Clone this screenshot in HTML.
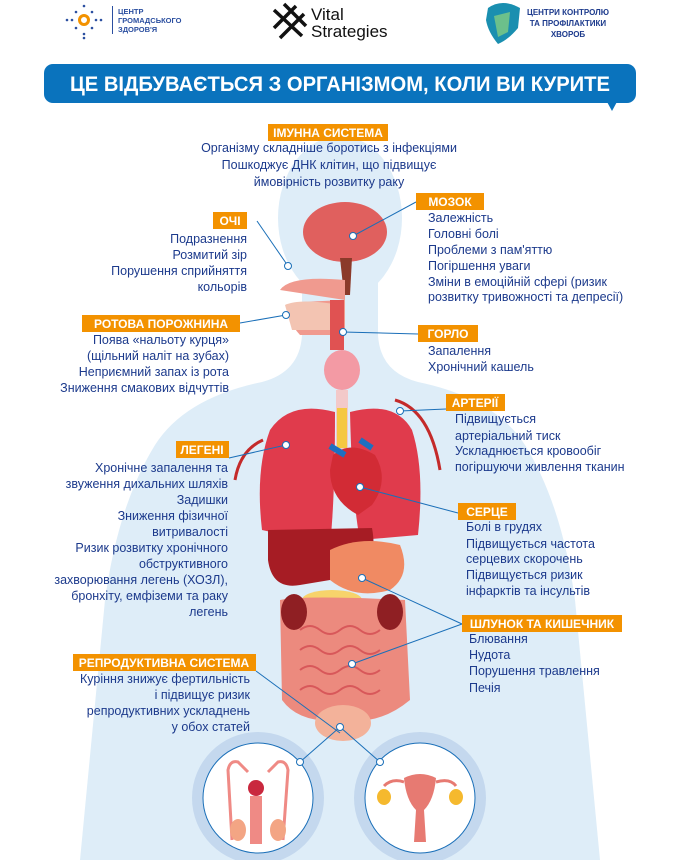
<!DOCTYPE html>
<html><head><meta charset="utf-8"><style>
body{margin:0;width:680px;height:860px;overflow:hidden;background:#fff;font-family:"Liberation Sans",sans-serif}
svg{display:block}
.t{font-family:"Liberation Sans",sans-serif;font-size:12.5px;fill:#1c3a8c}
.h{font-family:"Liberation Sans",sans-serif;font-size:12px;font-weight:bold;fill:#fff}
</style></head><body>
<svg width="680" height="860" viewBox="0 0 680 860" xmlns="http://www.w3.org/2000/svg">
<g fill="#deedf8">
<ellipse cx="340" cy="218" rx="62" ry="82"/>
<path d="M302 280 L302 335 Q300 372 262 382 Q185 398 155 445 Q118 505 105 600 L80 860 L600 860 L575 600 Q562 505 525 445 Q495 398 418 382 Q380 372 378 335 L378 280 Z"/>
</g>
<g>
<circle cx="84" cy="20" r="4.5" fill="none" stroke="#f39200" stroke-width="3"/>
<g fill="#2b4fa0"><circle cx="72" cy="20" r="1.3"/><circle cx="96" cy="20" r="1.3"/><circle cx="84" cy="6" r="1.3"/><circle cx="84" cy="34" r="1.3"/><circle cx="76" cy="12" r="1.3"/><circle cx="92" cy="12" r="1.3"/><circle cx="76" cy="28" r="1.3"/><circle cx="92" cy="28" r="1.3"/><circle cx="67" cy="20" r="1.3"/><circle cx="101" cy="20" r="1.3"/><circle cx="84" cy="38" r="1.3"/></g>
<rect x="112" y="6" width="1" height="28" fill="#2b4fa0"/>
<text x="118" y="14" style="font-size:7.5px;font-weight:bold" fill="#2b4fa0">ЦЕНТР</text>
<text x="118" y="23" style="font-size:7.5px;font-weight:bold" fill="#2b4fa0">ГРОМАДСЬКОГО</text>
<text x="118" y="32" style="font-size:7.5px;font-weight:bold" fill="#2b4fa0">ЗДОРОВ'Я</text>
<g stroke="#111" stroke-width="3.5" fill="none"><path d="M274 10 L302 36 M284 4 L306 26 M274 28 L296 6 M280 38 L304 14"/></g>
<text x="311" y="20" style="font-size:17px" fill="#111">Vital</text>
<text x="311" y="37" style="font-size:17px" fill="#111">Strategies</text>
<path d="M488 8 Q502 -2 520 8 L518 28 Q508 40 498 44 Q488 32 486 20 Z" fill="#1a8fb0"/>
<path d="M494 16 L510 12 L508 32 L498 37 Z" fill="#6cc08b"/>
<text x="568" y="15" text-anchor="middle" style="font-size:8px;font-weight:bold" fill="#1c3a8c">ЦЕНТРИ КОНТРОЛЮ</text>
<text x="568" y="26" text-anchor="middle" style="font-size:8px;font-weight:bold" fill="#1c3a8c">ТА ПРОФІЛАКТИКИ</text>
<text x="568" y="37" text-anchor="middle" style="font-size:8px;font-weight:bold" fill="#1c3a8c">ХВОРОБ</text>
</g>
<rect x="44" y="64" width="592" height="39" rx="9" fill="#0a73bd"/>
<path d="M606 100 L612 111 L618 100 Z" fill="#0a73bd"/>
<text x="340" y="91" text-anchor="middle" textLength="540" lengthAdjust="spacingAndGlyphs" style="font-family:'Liberation Sans',sans-serif;font-size:21px;font-weight:bold" fill="#fff">ЦЕ ВІДБУВАЄТЬСЯ З ОРГАНІЗМОМ, КОЛИ ВИ КУРИТЕ</text>

<circle cx="258" cy="798" r="66" fill="#c4d8ee"/><circle cx="258" cy="798" r="55" fill="#fff" stroke="#1a6fb8" stroke-width="1"/>
<circle cx="420" cy="798" r="66" fill="#c4d8ee"/><circle cx="420" cy="798" r="55" fill="#fff" stroke="#1a6fb8" stroke-width="1"/>
<g fill="none" stroke="#ef8a85" stroke-width="3"><path d="M232 840 L228 770 Q230 760 238 762 L248 772 M283 840 L288 770 Q286 760 278 762 L268 772"/></g>
<circle cx="256" cy="788" r="8" fill="#c9283e"/>
<rect x="250" y="796" width="12" height="48" fill="#ef8a85"/>
<ellipse cx="238" cy="830" rx="8" ry="11" fill="#f3a584"/><ellipse cx="278" cy="830" rx="8" ry="11" fill="#f3a584"/>
<path d="M404 778 Q420 770 436 778 Q434 800 424 810 L426 842 L414 842 L416 810 Q406 800 404 778 Z" fill="#e77a72"/>
<path d="M404 782 Q392 778 384 786 M436 782 Q450 778 456 786" stroke="#e77a72" stroke-width="3" fill="none"/>
<ellipse cx="384" cy="797" rx="7" ry="8" fill="#f5b92e"/><ellipse cx="456" cy="797" rx="7" ry="8" fill="#f5b92e"/>

<ellipse cx="345" cy="232" rx="42" ry="30" fill="#e0605e"/>
<path d="M340 258 L352 258 L350 295 L344 295 Z" fill="#8b3a2a"/>
<path d="M280 290 Q290 275 345 280 L345 300 L300 302 Q285 320 300 335 L345 335 L345 300 Z" fill="#f09a8f"/>
<path d="M285 305 Q300 298 340 305 L340 330 L292 330 Z" fill="#f3c4b2"/>
<rect x="330" y="300" width="14" height="50" fill="#e05252"/>
<ellipse cx="342" cy="370" rx="18" ry="20" fill="#f39aa4"/>
<rect x="336" y="390" width="12" height="60" fill="#f3c9c9"/>
<rect x="337" y="408" width="10" height="40" fill="#f5c842"/>
<path d="M335 412 Q290 400 270 430 Q255 470 262 530 L330 545 Q335 500 335 412 Z" fill="#e03b4c"/>
<path d="M350 412 Q395 400 412 430 Q425 470 418 535 L360 540 Q352 500 350 412 Z" fill="#e03b4c"/>
<path d="M333 455 Q350 440 375 455 Q390 480 372 505 L358 515 Q330 500 330 470 Z" fill="#d22b35"/>
<path d="M330 446 L345 455 M360 440 L372 448" stroke="#1e6fc0" stroke-width="6"/>
<path d="M268 530 L372 528 Q378 560 360 575 L300 585 Q272 590 268 560 Z" fill="#a61c24"/>
<path d="M330 550 Q360 535 400 545 Q412 575 390 590 Q355 600 330 580 Z" fill="#f08a63"/>
<ellipse cx="332" cy="600" rx="30" ry="10" fill="#f7d36b"/>
<path d="M280 600 Q305 595 405 600 L410 700 Q380 725 345 720 Q300 725 282 700 Z" fill="#ec8a7e"/>
<g stroke="#d8585a" stroke-width="2" fill="none"><path d="M300 630 q10 -8 20 0 t20 0 t20 0 t20 0 M300 650 q10 -8 20 0 t20 0 t20 0 t20 0 M300 670 q10 -8 20 0 t20 0 t20 0 t20 0 M300 690 q10 -8 20 0 t20 0 t20 0 t20 0"/></g>
<ellipse cx="294" cy="612" rx="13" ry="18" fill="#8f1f23"/><ellipse cx="390" cy="612" rx="13" ry="18" fill="#8f1f23"/>
<ellipse cx="343" cy="723" rx="28" ry="18" fill="#f3b29a"/>
<path d="M395 400 Q430 410 440 470 M263 440 Q240 450 235 480" stroke="#c42a2a" stroke-width="3" fill="none"/>

<g stroke="#1a6fb8" stroke-width="1" fill="#fff">
<line x1="257" y1="221" x2="288" y2="266"/>
<line x1="416" y1="202" x2="353" y2="236"/>
<line x1="240" y1="323" x2="286" y2="315"/>
<line x1="418" y1="334" x2="343" y2="332"/>
<line x1="446" y1="409" x2="400" y2="411"/>
<line x1="229" y1="458" x2="286" y2="445"/>
<line x1="458" y1="513" x2="360" y2="487"/>
<line x1="462" y1="624" x2="362" y2="578"/>
<line x1="462" y1="624" x2="352" y2="664"/>
<line x1="256" y1="671" x2="340" y2="733"/>
<line x1="340" y1="727" x2="300" y2="762"/>
<line x1="340" y1="727" x2="380" y2="762"/>
<circle cx="288" cy="266" r="3.5"/><circle cx="353" cy="236" r="3.5"/><circle cx="286" cy="315" r="3.5"/><circle cx="343" cy="332" r="3.5"/><circle cx="400" cy="411" r="3.5"/><circle cx="286" cy="445" r="3.5"/><circle cx="360" cy="487" r="3.5"/><circle cx="362" cy="578" r="3.5"/><circle cx="352" cy="664" r="3.5"/><circle cx="340" cy="727" r="3.5"/><circle cx="300" cy="762" r="3.5"/><circle cx="380" cy="762" r="3.5"/>
</g>

<g fill="#f39200">
<rect x="268" y="124" width="120" height="17"/>
<rect x="213" y="212" width="34" height="17"/>
<rect x="416" y="193" width="68" height="17"/>
<rect x="82" y="315" width="158" height="17"/>
<rect x="418" y="325" width="60" height="17"/>
<rect x="446" y="394" width="59" height="17"/>
<rect x="176" y="441" width="53" height="17"/>
<rect x="458" y="503" width="58" height="17"/>
<rect x="462" y="615" width="160" height="17"/>
<rect x="73" y="654" width="183" height="17"/>
</g>
<g>
<text x="328" y="137" text-anchor="middle" class="h">ІМУННА СИСТЕМА</text>
<text x="230" y="225" text-anchor="middle" class="h">ОЧІ</text>
<text x="450" y="206" text-anchor="middle" class="h">МОЗОК</text>
<text x="161" y="328" text-anchor="middle" class="h">РОТОВА ПОРОЖНИНА</text>
<text x="448" y="338" text-anchor="middle" class="h">ГОРЛО</text>
<text x="475" y="407" text-anchor="middle" class="h">АРТЕРІЇ</text>
<text x="202" y="454" text-anchor="middle" class="h">ЛЕГЕНІ</text>
<text x="487" y="516" text-anchor="middle" class="h">СЕРЦЕ</text>
<text x="542" y="628" text-anchor="middle" class="h">ШЛУНОК ТА КИШЕЧНИК</text>
<text x="164" y="667" text-anchor="middle" class="h">РЕПРОДУКТИВНА СИСТЕМА</text>
</g>
<g text-anchor="middle">
<text x="329" y="152" class="t">Організму складніше боротись з інфекціями</text>
<text x="329" y="169" class="t">Пошкоджує ДНК клітин, що підвищує</text>
<text x="329" y="186" class="t">ймовірність розвитку раку</text>
</g>
<g text-anchor="end">
<text x="247" y="243" class="t">Подразнення</text>
<text x="247" y="259" class="t">Розмитий зір</text>
<text x="247" y="275" class="t">Порушення сприйняття</text>
<text x="247" y="291" class="t">кольорів</text>
<text x="229" y="344" class="t">Поява «нальоту курця»</text>
<text x="229" y="360" class="t">(щільний наліт на зубах)</text>
<text x="229" y="376" class="t">Неприємний запах із рота</text>
<text x="229" y="392" class="t">Зниження смакових відчуттів</text>
<text x="228" y="472" class="t">Хронічне запалення та</text>
<text x="228" y="488" class="t">звуження дихальних шляхів</text>
<text x="228" y="504" class="t">Задишки</text>
<text x="228" y="520" class="t">Зниження фізичної</text>
<text x="228" y="536" class="t">витривалості</text>
<text x="228" y="552" class="t">Ризик розвитку хронічного</text>
<text x="228" y="568" class="t">обструктивного</text>
<text x="228" y="584" class="t">захворювання легень (ХОЗЛ),</text>
<text x="228" y="600" class="t">бронхіту, емфіземи та раку</text>
<text x="228" y="616" class="t">легень</text>
<text x="250" y="683" class="t">Куріння знижує фертильність</text>
<text x="250" y="699" class="t">і підвищує ризик</text>
<text x="250" y="715" class="t">репродуктивних ускладнень</text>
<text x="250" y="731" class="t">у обох статей</text>
</g>
<g>
<text x="428" y="222" class="t">Залежність</text>
<text x="428" y="238" class="t">Головні болі</text>
<text x="428" y="254" class="t">Проблеми з пам'яттю</text>
<text x="428" y="270" class="t">Погіршення уваги</text>
<text x="428" y="286" class="t">Зміни в емоційній сфері (ризик</text>
<text x="428" y="301" class="t">розвитку тривожності та депресії)</text>
<text x="428" y="355" class="t">Запалення</text>
<text x="428" y="371" class="t">Хронічний кашель</text>
<text x="455" y="423" class="t">Підвищується</text>
<text x="455" y="440" class="t">артеріальний тиск</text>
<text x="455" y="455" class="t">Ускладнюється кровообіг</text>
<text x="455" y="471" class="t">погіршуючи живлення тканин</text>
<text x="466" y="531" class="t">Болі в грудях</text>
<text x="466" y="548" class="t">Підвищується частота</text>
<text x="466" y="563" class="t">серцевих скорочень</text>
<text x="466" y="579" class="t">Підвищується ризик</text>
<text x="466" y="595" class="t">інфарктів та інсультів</text>
<text x="469" y="643" class="t">Блювання</text>
<text x="469" y="659" class="t">Нудота</text>
<text x="469" y="675" class="t">Порушення травлення</text>
<text x="469" y="692" class="t">Печія</text>
</g>
</svg>
</body></html>
